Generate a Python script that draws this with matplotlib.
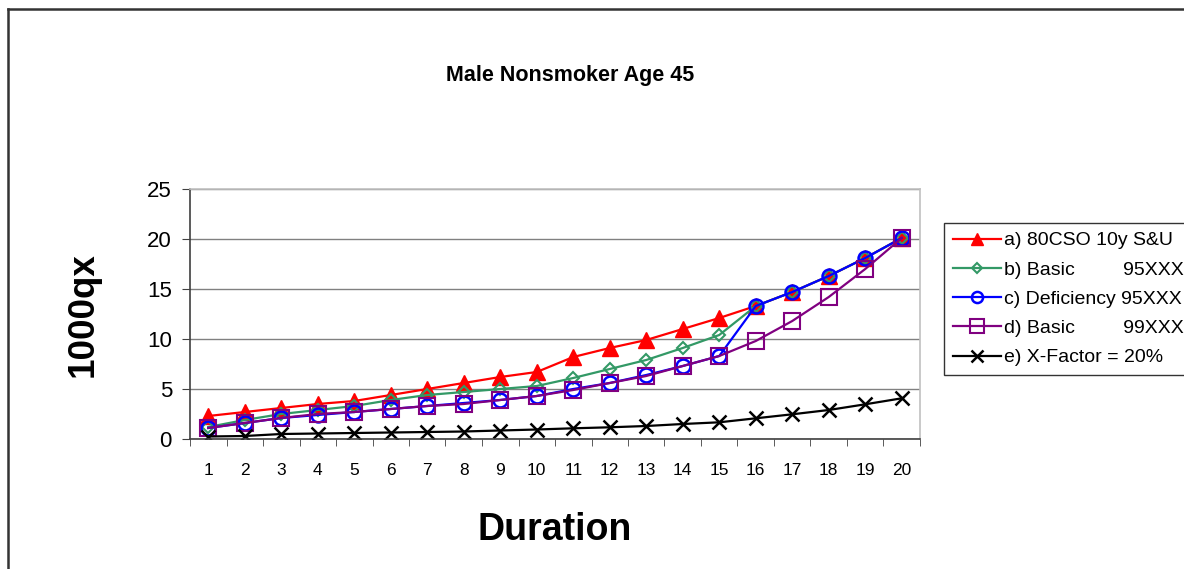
import numpy as np
import matplotlib.pyplot as plt
from matplotlib.lines import Line2D

plt.rcParams['font.family'] = ['Liberation Sans', 'DejaVu Sans']

# durations 1..20 and 1000qx values
durations = np.arange(1, 21)
cso_80 = [2.3, 2.7, 3.1, 3.5, 3.8, 4.4, 5.0, 5.6, 6.2, 6.7,
          8.2, 9.1, 9.9, 11.0, 12.1, 13.3, 14.7, 16.3, 18.1, 20.1]
basic_95 = [1.2, 1.9, 2.5, 2.9, 3.3, 3.9, 4.4, 4.7, 5.0, 5.3,
            6.1, 7.0, 7.9, 9.1, 10.4, 13.3, 14.7, 16.3, 18.1, 20.1]
deficiency_95 = [1.1, 1.6, 2.1, 2.4, 2.7, 3.0, 3.3, 3.6, 3.9, 4.3,
                 5.0, 5.6, 6.4, 7.3, 8.3, 13.3, 14.7, 16.3, 18.1, 20.1]
basic_99 = [1.1, 1.6, 2.1, 2.5, 2.7, 3.0, 3.3, 3.5, 3.9, 4.3,
            4.9, 5.6, 6.3, 7.3, 8.3, 9.8, 11.8, 14.2, 17.0, 20.1]
x_factor = [0.25, 0.3, 0.5, 0.55, 0.6, 0.65, 0.7, 0.75, 0.85, 0.95,
            1.07, 1.17, 1.3, 1.5, 1.67, 2.07, 2.47, 2.9, 3.47, 4.07]

labels = ["a) 80CSO 10y S&U",
          "b) Basic         95XXX",
          "c) Deficiency 95XXX",
          "d) Basic         99XXX",
          "e) X-Factor = 20%"]

fig = plt.figure(figsize=(11.84, 5.69), dpi=100)
ax = fig.add_axes([190 / 1184, 1 - 439 / 569, 730 / 1184, 250 / 569])

ax.plot(durations, cso_80, color='red', lw=1.6, marker='^', ms=11,
        mfc='red', mec='red', label=labels[0])
ax.plot(durations, basic_95, color='#339966', lw=1.6, marker='D', ms=6,
        mfc='none', mec='#339966', mew=1.5, label=labels[1])
ax.plot(durations, deficiency_95, color='blue', lw=1.6, marker='o', ms=10,
        mfc='none', mec='blue', mew=1.8, label=labels[2])
ax.plot(durations, basic_99, color='purple', lw=1.6, marker='s', ms=12,
        mfc='none', mec='purple', mew=1.5, label=labels[3])
ax.plot(durations, x_factor, color='black', lw=1.6, marker='x', ms=10,
        mew=1.8, label=labels[4])

ax.set_xlim(0.5, 20.5)
ax.set_ylim(0, 25)
ax.set_yticks(np.arange(0, 26, 5))
ax.set_xticks(durations)
ax.set_xticks(np.arange(0.5, 21, 1), minor=True)
ax.tick_params(axis='x', which='major', length=0, pad=17, labelsize=12.5)
ax.tick_params(axis='x', which='minor', length=5, direction='out', color='#404040')
ax.tick_params(axis='y', length=6, direction='out', labelsize=16, pad=7, color='#404040')
ax.grid(axis='y', color='#808080', lw=1)
ax.set_axisbelow(True)
for side in ['top', 'right']:
    ax.spines[side].set_color('#c0c0c0')
    ax.spines[side].set_linewidth(1.2)
for side in ['left', 'bottom']:
    ax.spines[side].set_color('#404040')
    ax.spines[side].set_linewidth(1.2)

fig.text(570 / 1184, 1 - 75 / 569, "Male Nonsmoker Age 45", ha='center', va='center',
         fontsize=15.5, fontweight='bold')
fig.text(83 / 1184, 1 - 315 / 569, "1000qx", ha='center', va='center', rotation=90,
         fontsize=26.5, fontweight='bold')
fig.text(555 / 1184, 1 - 530 / 569, "Duration", ha='center', va='center',
         fontsize=27, fontweight='bold')

leg = fig.legend(loc='upper left', bbox_to_anchor=(944 / 1184, 1 - 223 / 569),
                 frameon=True, fancybox=False, fontsize=14, handlelength=2.5,
                 handletextpad=0.15, borderpad=0.45, labelspacing=0.6,
                 borderaxespad=0, markerscale=0.8)
leg.get_frame().set_edgecolor('black')
leg.get_frame().set_linewidth(1)

# outer chart frame (only left and top edges visible)
fig.add_artist(Line2D([8 / 1184, 8 / 1184], [0, 1 - 9 / 569], color='#333333', lw=1.8,
                      transform=fig.transFigure))
fig.add_artist(Line2D([8 / 1184, 1], [1 - 9 / 569, 1 - 9 / 569], color='#333333', lw=1.8,
                      transform=fig.transFigure))

fig.savefig('out.png', dpi=100)
